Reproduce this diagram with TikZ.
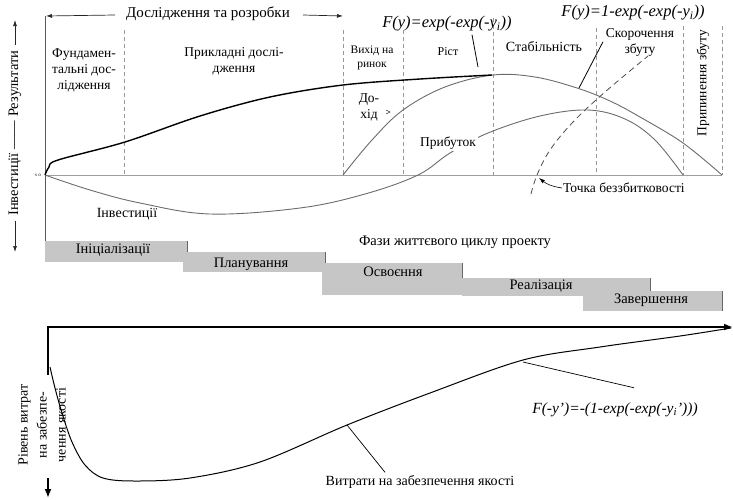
\documentclass[tikz,border=0pt]{standalone}
\usepackage{fontspec}
\setmainfont{Liberation Serif}
\usetikzlibrary{arrows.meta}
\begin{document}
\begin{tikzpicture}[x=1pt,y=-1pt,
  lbl/.style={font=\fontsize{13.5}{16}\selectfont, inner sep=1pt, align=center},
  smalllbl/.style={font=\fontsize{11.5}{14}\selectfont, inner sep=1pt, align=center},
  frm/.style={font=\fontsize{16.5}{18}\selectfont\itshape, inner sep=1pt},
  frmb/.style={font=\fontsize{15.5}{17}\selectfont\itshape, inner sep=1pt},
  vdash/.style={gray!80, line width=0.6pt, dash pattern=on 4pt off 3pt},
  gcurve/.style={gray!85!black, line width=0.9pt},
  bcurve/.style={black, line width=1.4pt},
  phasebox/.style={fill=gray!45, draw=none, inner sep=0pt, anchor=north west},
  phaseedge/.style={gray!80!black, line width=0.7pt},
  smallarrow/.style={-{Latex[length=6pt,width=4pt]}},
  thickarrow/.style={line width=2pt, -{Latex[length=9pt,width=7pt]}},
]
\useasboundingbox (0,0) rectangle (733,499);

% ---------- upper chart ----------
% vertical dashed phase lines
\foreach \xx/\yt in {124/30,343/30,403/30,493/18,596/28,683/26,722/26}
  \draw[vdash] (\xx,\yt) -- (\xx,175);

% axes
\draw[gray!70!black, line width=0.7pt] (45,16) -- (45,241);
\draw[gray!75, line width=0.9pt] (45,175) -- (722,175);
\node[font=\fontsize{5}{6}\selectfont, inner sep=0pt] (so) at (38,175) {s o};

% top arrow: research and development
\node[font=\fontsize{15}{17}\selectfont, inner sep=1pt] (rnd) at (208,14) {Дослідження та розробки};
\coordinate (rndl) at (46,16);
\coordinate (rndr) at (343,16);
\draw[smallarrow, gray!30!black, line width=0.7pt] ([xshift=-10pt,yshift=-1pt]rnd.west) -- (rndl);
\draw[smallarrow, gray!30!black, line width=0.7pt] ([xshift=12pt,yshift=-1pt]rnd.east) -- (rndr);

% left rotated label with arrows
\node[rotate=90, font=\fontsize{14.5}{16}\selectfont, inner sep=1pt] (lefttxt) at (15,133) {Інвестиції —— Результати};
\coordinate (upt) at (15,20);
\coordinate (dnt) at (15,252);
\draw[smallarrow, line width=0.7pt, gray!30!black, shorten <=4pt] (lefttxt.east) -- (upt);
\draw[smallarrow, line width=0.7pt, gray!30!black, shorten <=4pt] (lefttxt.west) -- (dnt);

% curves
\draw[gcurve] plot[smooth, tension=0.6] coordinates {(343,175) (372,140) (403,110) (445,87) (493,75) (535,77) (577,88) (610,101) (640,117) (683,143) (722,175)};
\draw[gcurve] plot[smooth, tension=0.6] coordinates {(45,175) (90,190) (140,203) (210,214) (300,208) (365,194) (418,175) (450,153) (488,133) (540,116) (588,110) (625,119) (655,140) (683,175)};
\draw[bcurve] plot[smooth, tension=0.55] coordinates {(45,175) (49,167) (58,160) (125,142) (200,116) (270,97) (343,85) (420,79) (492,75)};
\draw[gray!60!black, line width=0.8pt, dash pattern=on 6pt off 4pt] plot[smooth, tension=0.6] coordinates {(531,194) (537,175) (550,150) (573,122) (605,92) (648,56)};

% labels in upper chart
\node[lbl] (fund) at (84,70) {Фундамен-\\тальні дос-\\лідження};
\node[lbl] (appl) at (234,61) {Прикладні дослі-\\дження};
\node[smalllbl] (mkt) at (372,58) {Вихід на\\ринок};
\node[smalllbl, font=\fontsize{12}{14}\selectfont] (grow) at (448,52) {Ріст};
\node[lbl, font=\fontsize{14}{16}\selectfont] (stab) at (544,47) {Стабільність};
\node[lbl] (decl) at (640,42) {Скорочення\\збуту};
\node[lbl, rotate=90] (stop) at (703,83) {Припинення збуту};
\node[lbl] (rev) at (369,107) {До-\\хід};
\draw[gray!40!black, line width=0.5pt] (386,110) -- (390,112) -- (386,114);
\node[lbl, fill=white, font=\fontsize{14}{16}\selectfont] (inv) at (127,214) {Інвестиції};
\node[lbl, fill=white, inner sep=2pt] (prof) at (448,143) {Прибуток};
\node[lbl, font=\fontsize{13.5}{15}\selectfont, anchor=west] (bep) at (562,188) {Точка беззбитковості};
\coordinate (bept) at (539,178);
\draw[-{Latex[length=6pt,width=4pt]}, line width=0.6pt] (bep.west) to[bend left=15] (bept);

% formulas
\node[frm] (f1) at (447,24) {F(y)=exp(-exp(-y\textsubscript{i}))};
\node[frm] (f2) at (633,13) {F(y)=1-exp(-exp(-y\textsubscript{i}))};
\coordinate (f1e) at (478,67);
\coordinate (f2e) at (579,88);
\draw[line width=0.8pt] ([xshift=25pt,yshift=-2pt]f1.south) -- (f1e);
\draw[line width=0.8pt] ([xshift=-30pt,yshift=-20pt]f2.south) -- (f2e);

% ---------- phase boxes ----------
\node[lbl, font=\fontsize{14.5}{16}\selectfont] (phases) at (455,242) {Фази життєвого циклу проекту};
\node[phasebox, minimum width=142pt, minimum height=21pt] (b1) at (45,241) {};
\draw[phaseedge] (b1.north east) -- (b1.south east);
\node[phasebox, minimum width=142pt, minimum height=20pt] (b2) at (183,252) {};
\draw[phaseedge] (b2.north east) -- (b2.south east);
\node[phasebox, minimum width=140pt, minimum height=32pt] (b3) at (322,263) {};
\draw[phaseedge] (b3.north east) -- (b3.south east);
\node[phasebox, minimum width=188pt, minimum height=18pt] (b4) at (462,278) {};
\draw[phaseedge] (b4.north east) -- (b4.south east);
\node[phasebox, minimum width=139pt, minimum height=20pt] (b5) at (583,291) {};
\draw[phaseedge] (b5.north east) -- (b5.south east);
\node[lbl, font=\fontsize{14.5}{16}\selectfont] (t1) at (113,250) {Ініціалізації};
\node[lbl, font=\fontsize{14.5}{16}\selectfont] (t2) at (251,264) {Планування};
\node[lbl, font=\fontsize{14.5}{16}\selectfont] (t3) at (393,272) {Освоєння};
\node[lbl, font=\fontsize{14.5}{16}\selectfont] (t4) at (541,286) {Реалізація};
\node[lbl, font=\fontsize{14.5}{16}\selectfont] (t5) at (651,300) {Завершення};

% ---------- lower chart ----------
\coordinate (o2) at (48,327);
\coordinate (xend) at (733,327);
\coordinate (vend) at (48,375);
\draw[thickarrow] (o2) -- (xend);
\draw[line width=2pt] ([yshift=1pt]o2) -- (vend);
\coordinate (dn1) at (48,478);
\coordinate (dn2) at (48,498);
\draw[thickarrow] (dn1) -- (dn2);

\node[lbl, rotate=90, font=\fontsize{14}{19}\selectfont] (qlbl) at (42,425) {Рівень витрат\\на забезпе-\\чення якості};

\draw[line width=1pt] plot[smooth, tension=0.55] coordinates {(50,367) (55,388) (62,413) (72,442) (85,465) (103,478) (135,481) (190,478) (260,462) (347,425) (430,393) (523,360) (600,347) (680,336) (731,328)};

\node[lbl, font=\fontsize{14}{16}\selectfont] (cost) at (420,482) {Витрати на забезпечення якості};
\node[frmb] (f3) at (615,410) {F(-y')=-(1-exp(-exp(-y\textsubscript{i}')))};
\coordinate (c1) at (347,425);
\coordinate (c2) at (523,362);
\draw[line width=0.7pt] (c1) -- ([xshift=-35pt,yshift=2pt]cost.north);
\draw[line width=0.7pt] (c2) -- ([xshift=19pt,yshift=14pt]f3.north);
\end{tikzpicture}
\end{document}
